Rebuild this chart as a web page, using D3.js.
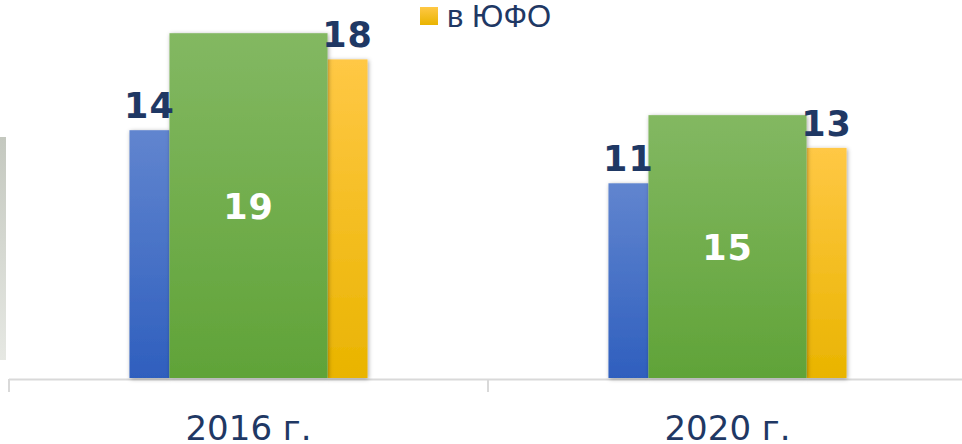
<!DOCTYPE html>
<html>
<head>
<meta charset="utf-8">
<script src="https://cdn.jsdelivr.net/npm/d3@7"></script>
<style>
    body { margin: 0; background: #fff; }
    svg { display: block; }
</style>
</head>
<body>
<div id="chart"></div>
<script>
// chart values
const categories = ['2016 г.', '2020 г.'];
const blueValues = [14, 11];
const greenValues = [19.48, 14.85];
const yellowValues = [18, 13];
const legendLabel = 'в ЮФО';

const width = 962, height = 444;
const navy = '#1f3864';

const svg = d3.select('#chart').append('svg')
    .attr('width', width)
    .attr('height', height);

const defs = svg.append('defs');

// vertical gradients like the office bar fill
function grad(id, top, bottom) {
    let g = defs.append('linearGradient').attr('id', id)
        .attr('x1', 0).attr('y1', 0).attr('x2', 0).attr('y2', 1);
    g.append('stop').attr('offset', '0%').attr('stop-color', top);
    g.append('stop').attr('offset', '100%').attr('stop-color', bottom);
}
grad('gBlue', '#6185cf', '#2f5fbe');
grad('gGreen', '#83b862', '#60a338');
grad('gYellow', '#ffc845', '#e9b400');
grad('gSide', '#c4c8bf', '#e6e8e3');

const shadow = defs.append('filter').attr('id', 'shadow')
    .attr('x', '-20%').attr('y', '-10%').attr('width', '140%').attr('height', '120%');
shadow.append('feDropShadow')
    .attr('dx', 1).attr('dy', 1).attr('stdDeviation', 2)
    .attr('flood-color', '#000').attr('flood-opacity', 0.35);

// scales
const x = d3.scaleBand()
    .domain(categories)
    .range([9, 967])
    .padding(0);

const y = d3.scaleLinear()
    .domain([0, 20])
    .range([378, 24]);

const bw = x.bandwidth();
const sideW = bw * 0.0835;
const greenW = bw * 0.33;

// grey edge of a neighbouring object at the left
svg.append('rect')
    .attr('x', 0).attr('y', 137)
    .attr('width', 6).attr('height', 223)
    .attr('fill', 'url(#gSide)');

// axis line and ticks
svg.append('line')
    .attr('x1', 9).attr('x2', width)
    .attr('y1', 379.5).attr('y2', 379.5)
    .attr('stroke', '#d9d9d9').attr('stroke-width', 2);

svg.selectAll('.tick')
    .data(categories)
    .join('line')
    .attr('class', 'tick')
    .attr('x1', d => x(d)).attr('x2', d => x(d))
    .attr('y1', 379).attr('y2', 392)
    .attr('stroke', '#d9d9d9').attr('stroke-width', 2);

// bars
const rows = categories.map((c, i) => ({
    cat: c, blue: blueValues[i], green: greenValues[i], yellow: yellowValues[i]
}));

const centre = d => x(d.cat) + bw / 2;

const series = [
    { key: 'blue', fill: 'url(#gBlue)', w: sideW, left: d => centre(d) - greenW / 2 - sideW },
    { key: 'yellow', fill: 'url(#gYellow)', w: sideW, left: d => centre(d) + greenW / 2 },
    { key: 'green', fill: 'url(#gGreen)', w: greenW, left: d => centre(d) - greenW / 2 }
];

series.forEach(s => {
    svg.selectAll('.bar-' + s.key)
        .data(rows)
        .join('rect')
        .attr('class', 'bar-' + s.key)
        .attr('x', s.left)
        .attr('y', d => y(d[s.key]))
        .attr('width', s.w)
        .attr('height', d => y(0) - y(d[s.key]))
        .attr('fill', s.fill)
        .attr('filter', 'url(#shadow)');
});

// value labels
const fmt = v => Math.round(v);

['blue', 'yellow'].forEach(key => {
    let s = series.find(t => t.key === key);
    svg.selectAll('.lbl-' + key)
        .data(rows)
        .join('text')
        .attr('class', 'lbl-' + key)
        .attr('x', d => s.left(d) + s.w / 2)
        .attr('y', d => y(d[key]) - 12)
        .attr('text-anchor', 'middle')
        .attr('font-family', 'DejaVu Sans, Verdana, sans-serif')
        .attr('font-weight', 'bold')
        .attr('font-size', 35)
        .attr('letter-spacing', 1)
        .attr('fill', navy)
        .text(d => fmt(d[key]));
});

svg.selectAll('.lbl-green')
    .data(rows)
    .join('text')
    .attr('class', 'lbl-green')
    .attr('x', d => centre(d))
    .attr('y', d => (y(d.green) + y(0)) / 2 + 13)
    .attr('text-anchor', 'middle')
    .attr('font-family', 'DejaVu Sans, Verdana, sans-serif')
    .attr('font-weight', 'bold')
    .attr('font-size', 35)
    .attr('letter-spacing', 1)
    .attr('fill', '#fff')
    .text(d => fmt(d.green));

// category labels
svg.selectAll('.cat')
    .data(categories)
    .join('text')
    .attr('class', 'cat')
    .attr('x', d => x(d) + bw / 2)
    .attr('y', 440)
    .attr('text-anchor', 'middle')
    .attr('font-family', 'DejaVu Sans, Tahoma, sans-serif')
    .attr('font-size', 34)
    .attr('fill', navy)
    .text(d => d);

// legend (only the visible entry)
svg.append('rect')
    .attr('x', 420).attr('y', 7)
    .attr('width', 18).attr('height', 18)
    .attr('fill', 'url(#gYellow)');

svg.append('text')
    .attr('x', 447).attr('y', 27)
    .attr('font-family', 'Liberation Sans, Arial, sans-serif')
    .attr('font-size', 31)
    .attr('fill', navy)
    .text(legendLabel);
</script>
</body>
</html>
